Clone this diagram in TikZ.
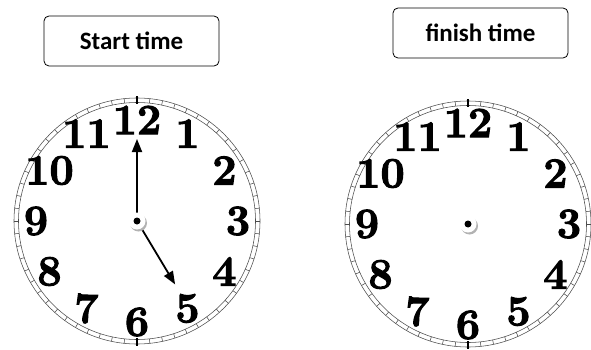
\documentclass[tikz,border=0pt]{standalone}
\usepackage{fontspec}
\newfontfamily\labelfont{Carlito}
\newfontfamily\numfont{Latin Modern Roman}[BoldFeatures={FakeBold=2.5}]
\usetikzlibrary{arrows.meta,positioning,calc}

\begin{document}
\begin{tikzpicture}[x=1pt,y=-1pt,
  timebox/.style={draw,thick,rounded corners=5pt,minimum width=175pt,minimum height=50pt,font=\labelfont\bfseries\fontsize{25}{25}\selectfont},
  rim/.style={draw=black!70,line width=0.55pt},
  numeral/.style={font=\numfont\bfseries\fontsize{43}{43}\selectfont,inner sep=0pt},
  hand/.style={-{Triangle[length=13pt,width=10pt]},line width=1.8pt},
  pivot/.style={circle,fill=white,minimum size=17pt,inner sep=0pt,drop},
  drop/.style={preaction={fill=black!30,transform canvas={shift={(1.5pt,-2pt)}}}}]
\useasboundingbox (0,0) rectangle (591,350);
% labels
\node[timebox] (start) at (131.5,41) {Start time};
\node[timebox] (finish) at (480.5,33) {finish time};
% both clock faces
\foreach \c/\cx/\cy in {lc/137/221,rc/468/224}{
  \coordinate (\c) at (\cx,\cy);
  \draw[rim] (\c) circle[radius=123] (\c) circle[radius=118.5];
  \foreach \m in {0,...,59}
    \draw[rim] ($(\c)+(\m*6:118.5)$) -- ($(\c)+(\m*6:123)$);
  \foreach \a in {90,270}
    \draw[line width=1.2pt] ($(\c)+(\a:117)$) -- ($(\c)+(\a:125)$);
  \foreach \n in {1,...,12}
    \node[numeral] (\c-\n) at ($(\c)+({\n*30-90}:101)$) {\n};
}
% hands on the start clock
\coordinate (minute) at ($(lc)+(0,-82)$);
\coordinate (hour) at ($(lc)+(59:74)$);
\draw[hand] (lc) -- (minute);
\draw[hand] (lc) -- (hour);
\node[pivot] (lpin) at (lc) {};
\node[pivot] (rpin) at (rc) {};
\fill (lpin) circle[radius=3.5];
\fill (rpin) circle[radius=3.5];
\end{tikzpicture}
\end{document}
